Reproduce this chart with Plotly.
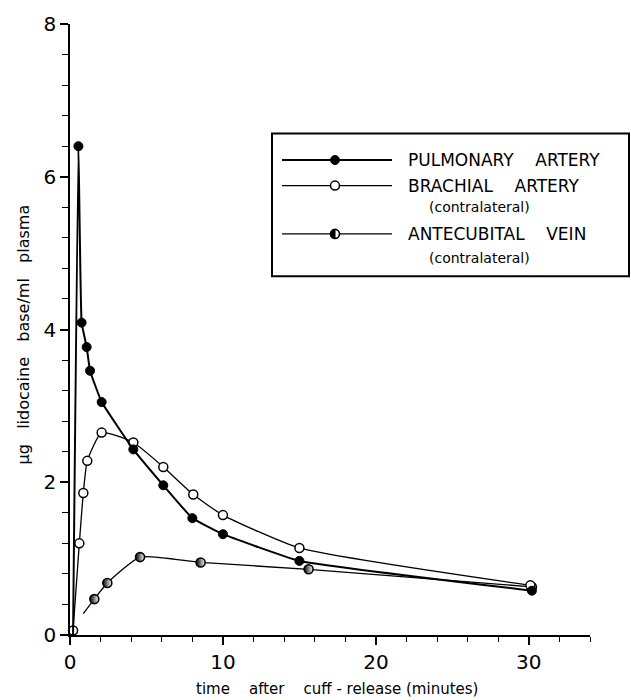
import plotly.graph_objects as go

# ---- data ----
pulm_x = [0.2, 0.55, 0.76, 1.09, 1.31, 2.07, 4.14, 6.1, 8.0, 10.0, 15.0, 30.2]
pulm_y = [0.0, 6.4, 4.09, 3.77, 3.46, 3.05, 2.43, 1.96, 1.53, 1.32, 0.97, 0.58]

brach_x = [0.2, 0.61, 0.87, 1.13, 2.07, 4.14, 6.1, 8.06, 10.0, 15.0, 30.1]
brach_y = [0.06, 1.2, 1.86, 2.28, 2.65, 2.52, 2.2, 1.84, 1.57, 1.14, 0.65]

ante_x = [0.87, 1.59, 2.44, 4.58, 8.54, 15.6, 30.2]
ante_y = [0.28, 0.47, 0.68, 1.02, 0.95, 0.86, 0.63]

y_ticks = [0, 2, 4, 6, 8]
x_ticks = [0, 10, 20, 30]

NB = "\u00a0"
legend_labels = ["PULMONARY" + NB * 4 + "ARTERY",
                 "BRACHIAL" + NB * 4 + "ARTERY",
                 "(contralateral)",
                 "ANTECUBITAL" + NB * 4 + "VEIN",
                 "(contralateral)"]
y_title = (NB * 3).join(["\u03bcg", "lidocaine", "base/ml", "plasma"])
x_title = (NB * 4).join(["time", "after", "cuff" + NB + "-" + NB + "release" + NB + "(minutes)"])

# ---- layout geometry (pixels) ----
W, H = 631, 700
L, R, T, B = 70, 41, 15, 65
PW, PH = W - L - R, H - T - B


def px(x):
    return (x - L) / PW


def py(y):
    return (H - B - y) / PH


FONT = "DejaVu Sans"
HALF = dict(type="horizontal", color="white")
fig = go.Figure()

# antecubital vein
ante_sizes = [0] + [9] * (len(ante_x) - 1)
fig.add_trace(go.Scatter(
    x=ante_x, y=ante_y, mode="lines+markers",
    line=dict(color="black", width=1.3, shape="spline", smoothing=0.5),
    marker=dict(symbol="circle", size=ante_sizes, color="black", opacity=1,
                gradient=HALF, line=dict(color="black", width=1.6)),
    showlegend=False, cliponaxis=False))

# brachial artery
fig.add_trace(go.Scatter(
    x=brach_x, y=brach_y, mode="lines+markers",
    line=dict(color="black", width=1.3, shape="spline", smoothing=0.5),
    marker=dict(symbol="circle", size=9, color="white", opacity=1,
                line=dict(color="black", width=1.5)),
    showlegend=False, cliponaxis=False))

# pulmonary artery (first point is line start only)
pulm_sizes = [0] + [9] * (len(pulm_x) - 1)
fig.add_trace(go.Scatter(
    x=pulm_x, y=pulm_y, mode="lines+markers",
    line=dict(color="black", width=2, shape="spline", smoothing=0.3),
    marker=dict(symbol="circle", size=pulm_sizes, color="black", opacity=1,
                line=dict(color="black", width=1)),
    showlegend=False, cliponaxis=False))

shapes = []
# legend box
shapes.append(dict(type="rect", xref="paper", yref="paper",
                   x0=px(272), x1=px(629), y0=py(271), y1=py(126),
                   line=dict(color="black", width=2), fillcolor="white",
                   layer="below"))
rows = [153, 179, 228]
for r in rows:
    shapes.append(dict(type="line", xref="paper", yref="paper",
                       x0=px(282), x1=px(392), y0=py(r), y1=py(r),
                       line=dict(color="black", width=1.8 if r == 153 else 1.3)))
# legend markers
marker_styles = [("black", 1), ("white", 1.5), ("white", 1.6)]
for r, (fc, lw) in zip(rows, marker_styles):
    shapes.append(dict(type="circle", xref="paper", yref="paper",
                       xsizemode="pixel", ysizemode="pixel",
                       xanchor=px(335), yanchor=py(r),
                       x0=-4.5, x1=4.5, y0=-4.5, y1=4.5,
                       fillcolor=fc, line=dict(color="black", width=lw)))
# left half fill of the antecubital legend marker
shapes.append(dict(type="path", xref="paper", yref="paper",
                   xsizemode="pixel", ysizemode="pixel",
                   xanchor=px(335), yanchor=py(228),
                   path="M0,-4.5 C-2.5,-4.5 -4.5,-2.5 -4.5,0 C-4.5,2.5 -2.5,4.5 0,4.5 Z",
                   fillcolor="black", line=dict(color="black", width=1)))

annotations = []
text_rows = [153, 179, 201, 228, 252]
text_x = [406, 406, 427, 406, 427]
for lab, r, tx in zip(legend_labels, text_rows, text_x):
    small = lab.startswith("(")
    annotations.append(dict(text=lab, xref="paper", yref="paper",
                            x=px(tx), y=py(r), showarrow=False,
                            xanchor="left", yanchor="middle",
                            font=dict(family=FONT, size=14 if small else 17,
                                      color="black")))
# axis titles
annotations.append(dict(
    text=y_title, xref="paper", yref="paper", x=px(23), y=py(330), textangle=-90,
    showarrow=False, xanchor="center", yanchor="middle",
    font=dict(family=FONT, size=16, color="black")))
annotations.append(dict(
    text=x_title, xref="paper", yref="paper", x=px(337), y=py(690),
    showarrow=False, xanchor="center", yanchor="middle",
    font=dict(family=FONT, size=15, color="black")))

fig.update_layout(
    width=W, height=H,
    margin=dict(l=L, r=R, t=T, b=B, pad=0),
    paper_bgcolor="white", plot_bgcolor="white",
    shapes=shapes, annotations=annotations,
    showlegend=False,
    xaxis=dict(range=[0, 34], tickvals=x_ticks, ticktext=[str(v) for v in x_ticks],
               showgrid=False, zeroline=False, showline=True,
               linecolor="black", linewidth=1.5,
               ticks="outside", ticklen=8, tickwidth=1.5, tickcolor="black",
               tickfont=dict(family=FONT, size=20, color="black"),
               minor=dict(dtick=2, tick0=0, ticks="outside", ticklen=5,
                          tickwidth=1.2, tickcolor="black", showgrid=False)),
    yaxis=dict(range=[0, 8], tickvals=y_ticks, ticktext=[str(v) for v in y_ticks],
               showgrid=False, zeroline=False, showline=True,
               linecolor="black", linewidth=1.5,
               ticks="outside", ticklen=8, tickwidth=1.5, tickcolor="black",
               tickfont=dict(family=FONT, size=20, color="black"),
               minor=dict(dtick=0.4, tick0=0, ticks="outside", ticklen=6,
                          tickwidth=1.2, tickcolor="black", showgrid=False)),
)

fig.write_html("out.html")
